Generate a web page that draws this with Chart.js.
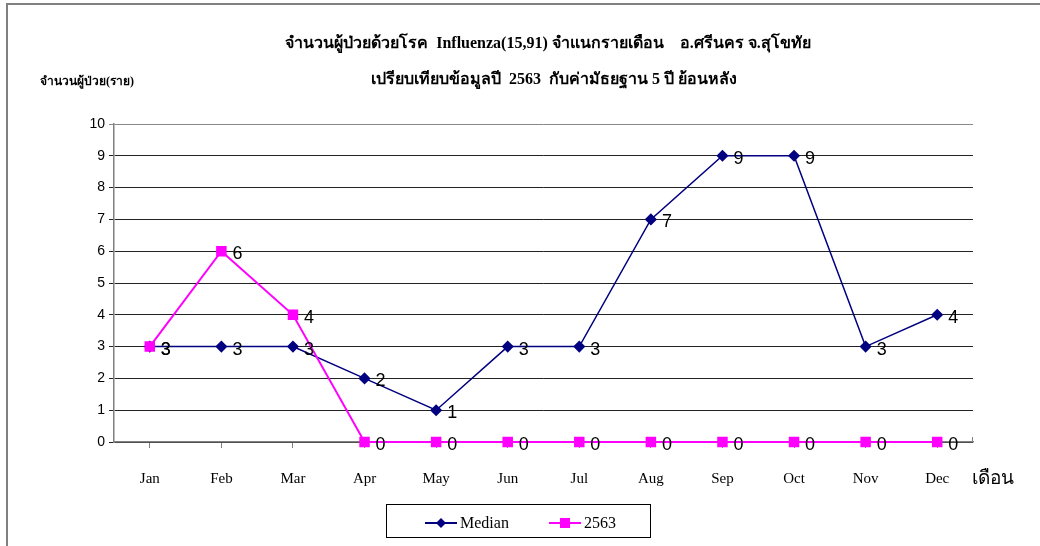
<!DOCTYPE html>
<html>
<head>
<meta charset="utf-8">
<script src="https://cdn.jsdelivr.net/npm/chart.js@4"></script>
<style>
  html, body { margin: 0; padding: 0; background: #fff; }
  #wrap { width: 1040px; height: 546px; position: relative; }
</style>
</head>
<body>
<div id="wrap"><canvas id="chartFlu" width="1040" height="546"></canvas></div>
<script>
const months = ['Jan', 'Feb', 'Mar', 'Apr', 'May', 'Jun', 'Jul', 'Aug', 'Sep', 'Oct', 'Nov', 'Dec'];
const medianValues = [3, 3, 3, 2, 1, 3, 3, 7, 9, 9, 3, 4];
const values2563 = [3, 6, 4, 0, 0, 0, 0, 0, 0, 0, 0, 0];
const seriesNames = ['Median', '2563'];

const titleLines = [
    'จำนวนผู้ป่วยด้วยโรค  Influenza(15,91) จำแนกรายเดือน    อ.ศรีนคร จ.สุโขทัย',
    'เปรียบเทียบข้อมูลปี  2563  กับค่ามัธยฐาน 5 ปี ย้อนหลัง'
];
const yTitle = 'จำนวนผู้ป่วย(ราย)';
const xTitle = 'เดือน';

const serif = '"Liberation Serif", "Times New Roman", serif';
const sans = '"Liberation Sans", Arial, sans-serif';

// frame, titles, data labels and the legend
const extras = {
    id: 'extras',
    afterDatasetsDraw(chart) {
        const ctx = chart.ctx;
        ctx.save();
        ctx.font = '18px ' + sans;
        ctx.fillStyle = '#000';
        ctx.textAlign = 'left';
        ctx.textBaseline = 'middle';
        chart.data.datasets.forEach((ds, i) => {
            chart.getDatasetMeta(i).data.forEach((pt, j) => {
                ctx.fillText(String(ds.data[j]), pt.x + 11, pt.y + 3);
            });
        });
        ctx.restore();
    },
    afterDraw(chart) {
        const ctx = chart.ctx;
        const area = chart.chartArea;
        ctx.save();

        // outer frame
        ctx.strokeStyle = '#808080';
        ctx.lineWidth = 2;
        ctx.strokeRect(7, 4, 1100, 600);

        // titles
        ctx.fillStyle = '#000';
        ctx.textAlign = 'center';
        ctx.textBaseline = 'middle';
        ctx.font = 'bold 16px ' + serif;
        ctx.fillText(titleLines[0], 548, 44);
        ctx.fillText(titleLines[1], 554, 80);

        ctx.textAlign = 'left';
        ctx.font = 'bold 12px ' + serif;
        ctx.fillText(yTitle, 40, 82);

        ctx.font = '19px ' + serif;
        ctx.fillText(xTitle, 972, 479);

        // small closing tick at the end of the x axis
        ctx.strokeStyle = '#808080';
        ctx.lineWidth = 1;
        ctx.beginPath();
        ctx.moveTo(area.right - 0.5, area.bottom);
        ctx.lineTo(area.right - 0.5, area.bottom - 5);
        ctx.stroke();

        // legend
        ctx.strokeStyle = '#000';
        ctx.strokeRect(386.5, 504.5, 264, 33);
        const sampleX = [425, 549];
        ctx.font = '16px ' + serif;
        chart.data.datasets.forEach((ds, i) => {
            const x0 = sampleX[i];
            const y = 523;
            ctx.strokeStyle = ds.borderColor;
            ctx.lineWidth = 2;
            ctx.beginPath();
            ctx.moveTo(x0, y);
            ctx.lineTo(x0 + 32, y);
            ctx.stroke();
            ctx.fillStyle = ds.pointBackgroundColor;
            const cx = x0 + 16;
            if (ds.pointStyle === 'rectRot') {
                ctx.beginPath();
                ctx.moveTo(cx, y - 5);
                ctx.lineTo(cx + 5, y);
                ctx.lineTo(cx, y + 5);
                ctx.lineTo(cx - 5, y);
                ctx.closePath();
                ctx.fill();
            } else {
                ctx.fillRect(cx - 5, y - 5, 10, 10);
            }
            ctx.fillStyle = '#000';
            ctx.fillText(ds.label, x0 + 35, y + 1);
        });
        ctx.restore();
    }
};

new Chart('chartFlu', {
    type: 'line',
    data: {
        labels: months,
        datasets: [{
            label: seriesNames[0],
            data: medianValues,
            borderColor: '#000080',
            backgroundColor: '#000080',
            pointBackgroundColor: '#000080',
            pointBorderColor: '#000080',
            pointStyle: 'rectRot',
            pointRadius: 5,
            borderWidth: 1.5,
            tension: 0,
            clip: false,
            order: 1
        }, {
            label: seriesNames[1],
            data: values2563,
            borderColor: '#ff00ff',
            backgroundColor: '#ff00ff',
            pointBackgroundColor: '#ff00ff',
            pointBorderColor: '#ff00ff',
            pointStyle: 'rect',
            pointRadius: 6,
            borderWidth: 2,
            tension: 0,
            clip: false,
            order: 0
        }]
    },
    options: {
        responsive: false,
        animation: false,
        layout: { padding: { left: 0, top: 124, right: 67, bottom: 0 } },
        plugins: {
            legend: { display: false },
            title: { display: false },
            tooltip: { enabled: false }
        },
        scales: {
            x: {
                offset: true,
                grid: {
                    offset: false,
                    drawOnChartArea: false,
                    tickLength: 6,
                    color: '#808080'
                },
                border: { color: '#808080', width: 1.5 },
                ticks: {
                    color: '#000',
                    font: { family: serif, size: 15 },
                    padding: 22,
                    maxRotation: 0
                },
                afterFit: (s) => { s.height = 104; }
            },
            y: {
                min: 0,
                max: 10,
                grid: {
                    tickLength: 5,
                    color: (c) => (c.tick && c.tick.value === 10) ? '#888' : '#222',
                    lineWidth: 1
                },
                border: { color: '#808080', width: 1.5 },
                ticks: {
                    stepSize: 1,
                    color: '#000',
                    font: { family: sans, size: 14 },
                    padding: 4
                },
                afterFit: (s) => { s.width = 114; }
            }
        }
    },
    plugins: [extras]
});
</script>
</body>
</html>
